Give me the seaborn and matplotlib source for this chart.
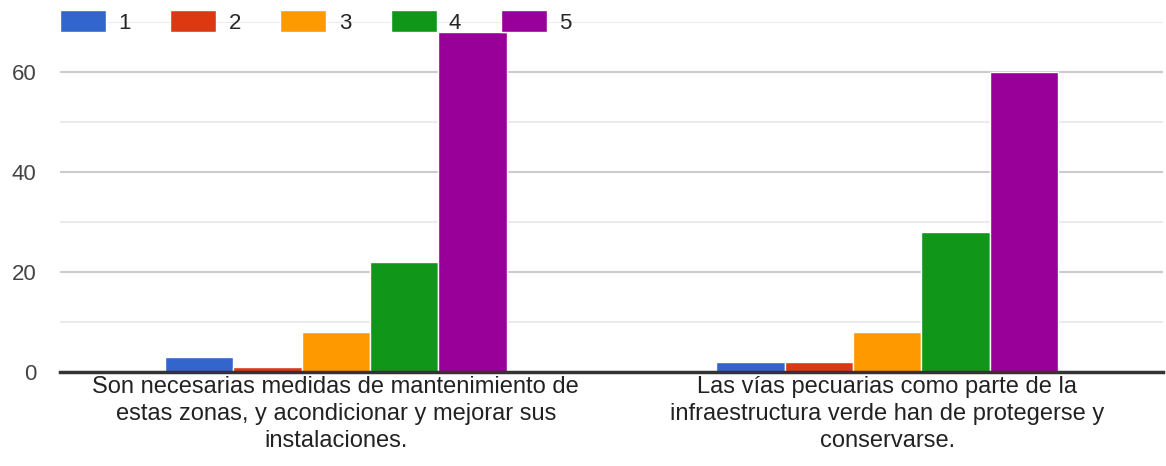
import matplotlib
matplotlib.use("Agg")
import matplotlib.pyplot as plt
import pandas as pd
import seaborn as sns

# Data
categories = [
    "Son necesarias medidas de mantenimiento de\nestas zonas, y acondicionar y mejorar sus\ninstalaciones.",
    "Las vías pecuarias como parte de la\ninfraestructura verde han de protegerse y\nconservarse.",
]
series = ["1", "2", "3", "4", "5"]
values_cat1 = [3, 1, 8, 22, 68]
values_cat2 = [2, 2, 8, 28, 60]
colors = ["#3366cc", "#dc3912", "#ff9900", "#109618", "#990099"]

rows = []
for s, v1, v2 in zip(series, values_cat1, values_cat2):
    rows.append({"cat": categories[0], "serie": s, "n": v1})
    rows.append({"cat": categories[1], "serie": s, "n": v2})
df = pd.DataFrame(rows)

sns.set_theme(style="white")
plt.rcParams["font.family"] = ["Liberation Sans", "DejaVu Sans"]

fig = plt.figure(figsize=(11.66, 4.66), dpi=100)
ax = fig.add_axes([60 / 1166, 94 / 466, 1103 / 1166, 350 / 466])

sns.barplot(data=df, x="cat", y="n", hue="serie", order=categories,
            hue_order=series, palette=colors, width=0.62, saturation=1,
            edgecolor="white", linewidth=1, ax=ax, legend=True)

ax.set_ylim(0, 70)
ax.set_xlim(-0.5, 1.5)
ax.set_yticks([0, 20, 40, 60])
ax.set_yticks([10, 30, 50, 70], minor=True)
ax.grid(axis="y", which="major", color="#cccccc", linewidth=1.5, zorder=0)
ax.grid(axis="y", which="minor", color="#ebebeb", linewidth=1.5, zorder=0)
ax.set_axisbelow(True)
for side in ["top", "right", "left"]:
    ax.spines[side].set_visible(False)
ax.spines["bottom"].set_color("#333333")
ax.spines["bottom"].set_linewidth(2.5)
ax.tick_params(axis="y", which="both", length=0, labelsize=16,
               labelcolor="#444444", pad=17)
ax.tick_params(axis="x", length=0, labelsize=17, labelcolor="#222222", pad=3)
for t in ax.get_xticklabels():
    t.set_linespacing(1.3)
ax.set_xlabel("")
ax.set_ylabel("")

handles, labels = ax.get_legend_handles_labels()
ax.get_legend().remove()
fig.legend(handles, labels, loc="center left", bbox_to_anchor=(60 / 1166, 1 - 22 / 466),
           ncol=5, frameon=False, fontsize=16, handlelength=2.07,
           handleheight=1.1, handletextpad=0.55, columnspacing=1.78,
           borderaxespad=0.0, borderpad=0.0)

fig.savefig("out.png", dpi=100)
